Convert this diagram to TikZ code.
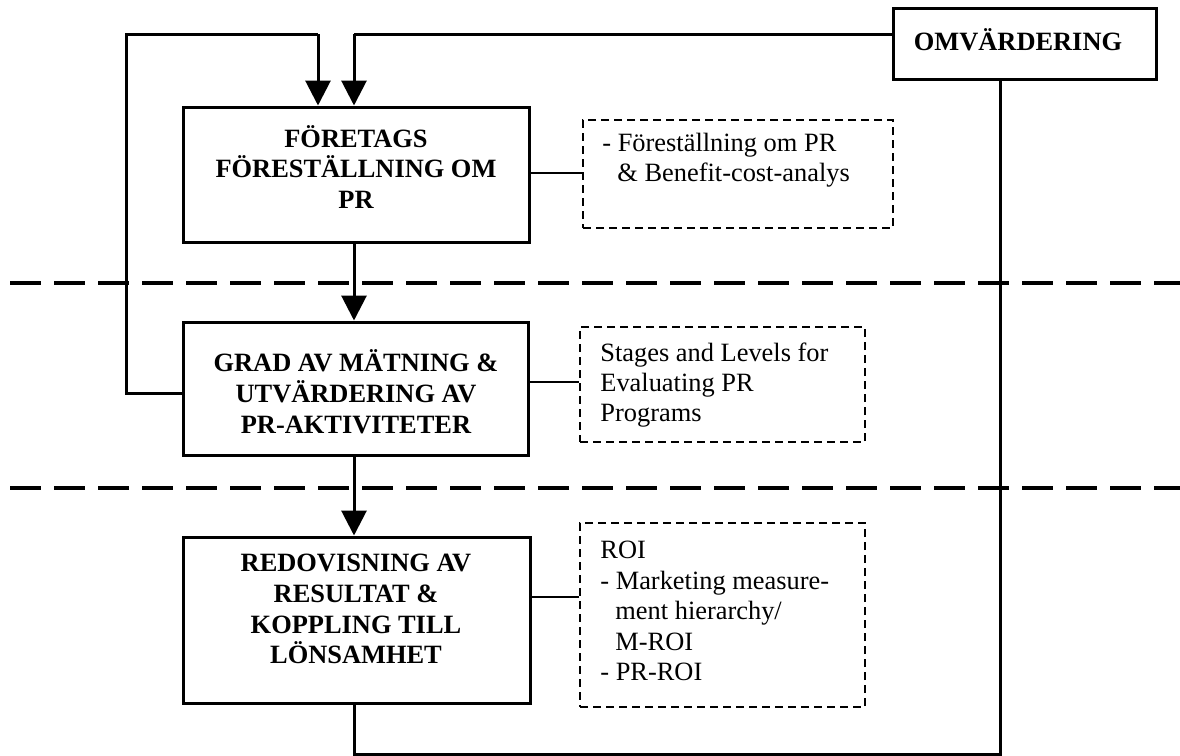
\documentclass[tikz,border=0pt]{standalone}
\usepackage{fontspec}
\setmainfont{Liberation Serif}
\usetikzlibrary{arrows.meta,fit}
\begin{document}
\begin{tikzpicture}[x=0.5pt,y=-0.5pt,
  bigbox/.style={draw,line width=1.5pt,inner sep=0pt},
  notebox/.style={draw,line width=0.75pt,dash pattern=on 4pt off 2.5pt,inner sep=0pt},
  bigtxt/.style={font=\fontsize{13.2}{15.4}\selectfont\bfseries,align=center,inner sep=0pt},
  notetxt/.style={font=\fontsize{13.2}{15.2}\selectfont,align=left,inner sep=0pt,anchor=west},
  conn/.style={line width=1.5pt},
  arr/.style={line width=1.5pt,-{Triangle[length=12.5pt,width=12.5pt]}},
  thin/.style={line width=0.75pt},
  sep/.style={line width=2pt,dash pattern=on 15.5pt off 6.5pt}]
\useasboundingbox (0,0) rectangle (1180,756);

% separators
\coordinate (s1a) at (10,283); \coordinate (s1b) at (1180,283);
\coordinate (s2a) at (10,488); \coordinate (s2b) at (1180,488);
\draw[sep] (s1a) -- (s1b);
\draw[sep] (s2a) -- (s2b);

% main boxes
\node[bigbox,fit={(183,107) (529,242)}] (b1) {};
\node[bigtxt] (b1t) at (356,167) {FÖRETAGS\\FÖRESTÄLLNING OM\\PR};
\node[bigbox,fit={(183,322) (528,455)}] (b2) {};
\node[bigtxt] (b2t) at (356,392) {GRAD AV MÄTNING \&\\UTVÄRDERING AV\\PR-AKTIVITETER};
\node[bigbox,fit={(183,537) (530,703)}] (b3) {};
\node[bigtxt] (b3t) at (356,609) {REDOVISNING AV\\RESULTAT \&\\KOPPLING TILL\\LÖNSAMHET};

\node[bigbox,fit={(893,8) (1156,79)}] (om) {};
\node[bigtxt] (omt) at (1018,40) {OMVÄRDERING};

% note boxes
\node[notebox,fit={(583,120) (893,228)}] (n1) {};
\node[notetxt] (n1t) at (602,160) {- Föreställning om PR\\\hspace*{7.5pt}\& Benefit-cost-analys};
\node[notebox,fit={(580,327) (865,442)}] (n2) {};
\node[notetxt] (n2t) at (600,385) {Stages and Levels for\\Evaluating PR\\Programs};
\node[notebox,fit={(580,523) (865,707)}] (n3) {};
\node[notetxt] (n3t) at (600,611) {ROI\\- Marketing measure-\\\hspace*{7.5pt}ment hierarchy/\\\hspace*{7.5pt}M-ROI\\- PR-ROI};

% thin links
\coordinate (c1) at (0,173); \coordinate (c2) at (0,382); \coordinate (c3) at (0,597);
\draw[thin] (b1.east |- c1) -- (n1.west |- c1);
\draw[thin] (b2.east |- c2) -- (n2.west |- c2);
\draw[thin] (b3.east |- c3) -- (n3.west |- c3);

% vertical flow
\coordinate (ax) at (354,0);
\draw[arr] (ax |- b1.south) -- (ax |- b2.north);
\draw[arr] (ax |- b2.south) -- (ax |- b3.north);

% left loop
\coordinate (L1) at (126,393);
\coordinate (L2) at (126,34);
\coordinate (L3) at (318,34);
\draw[conn] (b2.west |- L1) -- (L1) -- (L2) -- (L3);
\draw[arr] (L3) -- (L3 |- b1.north);

% right loop
\coordinate (R1) at (354,34);
\draw[conn] (om.west |- R1) -- (R1);
\draw[arr] (R1) -- (R1 |- b1.north);

% bottom return
\coordinate (B1) at (354,754);
\coordinate (B2) at (1000,754);
\draw[conn] (ax |- b3.south) -- (B1) -- (B2) -- (B2 |- om.south);
\end{tikzpicture}
\end{document}
